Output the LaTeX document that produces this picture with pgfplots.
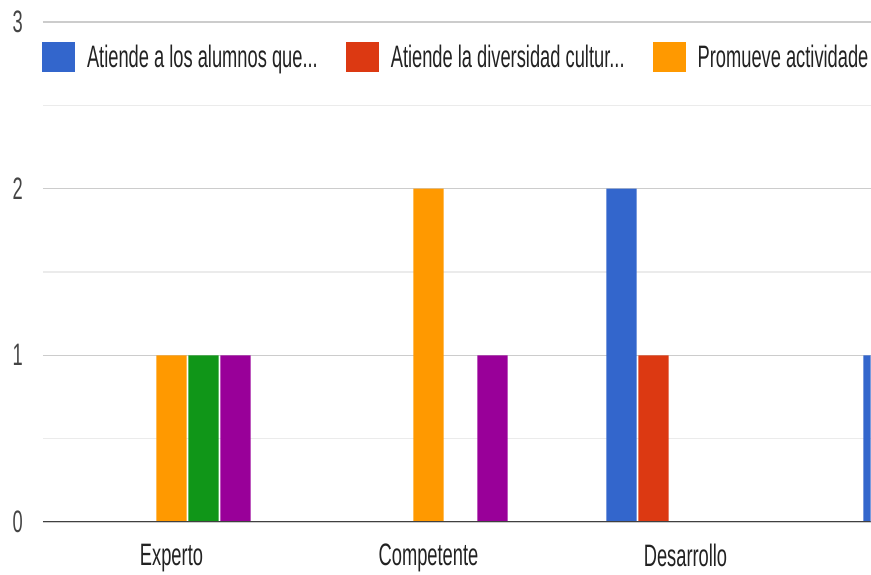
\documentclass[border=0pt]{standalone}
\usepackage{pgfplots}
\pgfplotsset{compat=1.18}
\usepackage{fontspec}
\setmainfont{Liberation Sans}[FakeStretch=0.59]
\definecolor{gblue}{HTML}{3366CC}
\definecolor{gred}{HTML}{DC3912}
\definecolor{gorange}{HTML}{FF9900}
\definecolor{ggreen}{HTML}{109618}
\definecolor{gpurple}{HTML}{990099}
\definecolor{txt}{HTML}{222222}
\definecolor{ytxt}{HTML}{444444}
\begin{document}
\begin{tikzpicture}
\path[use as bounding box] (-43pt,-53pt) rectangle (828pt,522pt);
\begin{axis}[
  at={(0pt,0pt)}, anchor=south west,
  x=257pt, y=166.6667pt,
  xmin=-0.5, xmax=2.72, ymin=0, ymax=3,
  axis line style={draw=none},
  major tick length=0pt, minor tick length=0pt,
  xtick={0,1,2}, xticklabels={Experto,Competente,Desarrollo},
  ytick={0,1,2,3}, minor ytick={0.5,1.5,2.5},
  ymajorgrids, yminorgrids,
  major grid style={draw=black!20, line width=1.6pt},
  minor grid style={draw=black!8, line width=1.4pt},
  /pgf/number format/assume math mode=true,
  tick label style={font=\fontsize{31}{36}\selectfont},
  yticklabel style={anchor=east, inner sep=0pt, xshift=-20pt, text=ytxt},
  xticklabel style={anchor=north, inner sep=0pt, yshift=-22pt, text=txt},
  legend columns=-1,
  legend image code/.code={\fill[#1,draw=none] (0pt,-15pt) rectangle (33pt,15pt);},
  legend style={at={(axis description cs:-0.0012,0.93)}, anchor=west,
    draw=none, fill=none, inner sep=0pt, outer sep=0pt,
    nodes={inner sep=0pt, text=txt, font=\fontsize{31}{36}\selectfont},
    /tikz/every odd column/.append style={column sep=12pt},
    /tikz/every even column/.append style={column sep=28pt}},
  legend cell align=left,
]
\addplot[ybar, bar width=0.117, bar shift=-0.249, fill=gblue, draw=none]
  coordinates {(0,0) (1,0) (2,2) (3,1)};
\addlegendentry{Atiende a los alumnos que...}
\addplot[ybar, bar width=0.117, bar shift=-0.1245, fill=gred, draw=none]
  coordinates {(0,0) (1,0) (2,1) (3,0)};
\addlegendentry{Atiende la diversidad cultur...}
\addplot[ybar, bar width=0.117, bar shift=0, fill=gorange, draw=none]
  coordinates {(0,1) (1,2) (2,0) (3,0)};
\addlegendentry{Promueve actividade}
\addplot[ybar, bar width=0.117, bar shift=0.1245, fill=ggreen, draw=none]
  coordinates {(0,1) (1,0) (2,0) (3,0)};
\addplot[ybar, bar width=0.117, bar shift=0.249, fill=gpurple, draw=none]
  coordinates {(0,1) (1,1) (2,0) (3,0)};
\draw[black!75, line width=2.5pt] (rel axis cs:0,0) -- (rel axis cs:1,0);
\end{axis}
\end{tikzpicture}
\end{document}
